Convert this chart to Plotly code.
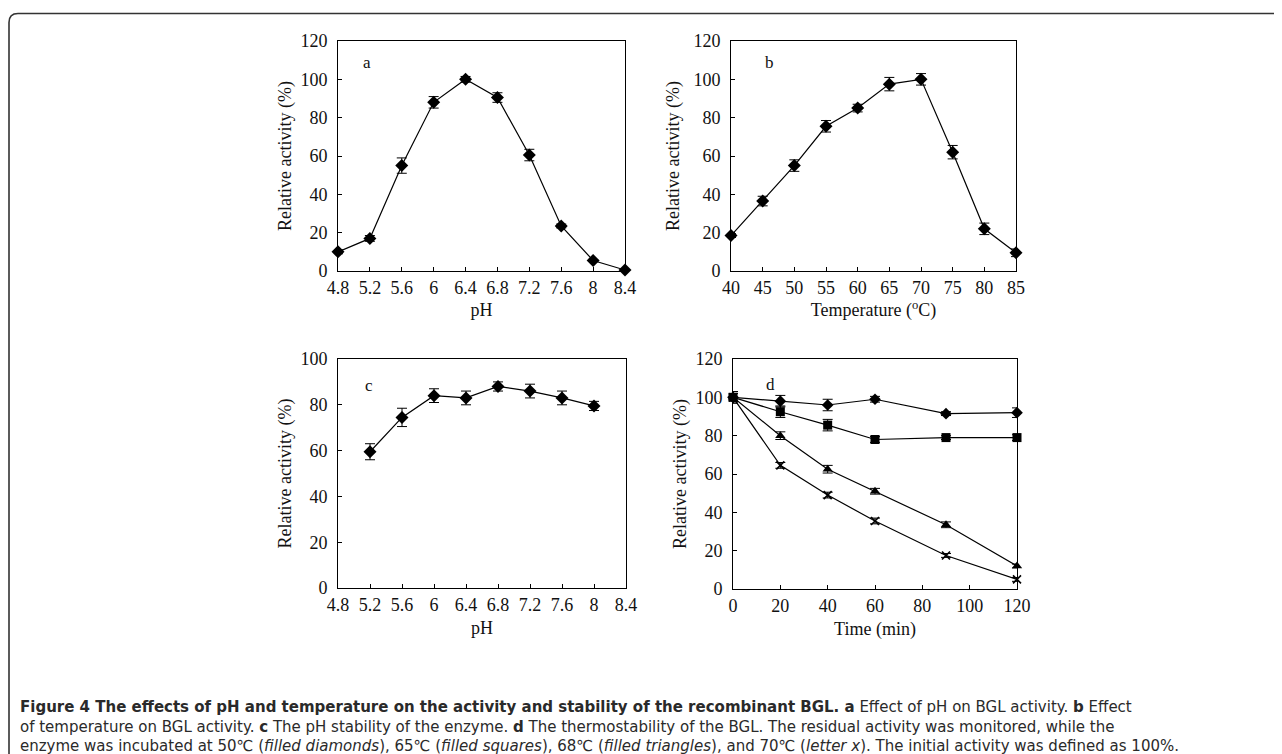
import plotly.graph_objects as go

W, H = 1282, 754

# ---- data ----
ph_a = [4.8, 5.2, 5.6, 6.0, 6.4, 6.8, 7.2, 7.6, 8.0, 8.4]
act_a = [10, 17, 55, 88, 100, 90.5, 60.5, 23.5, 5.5, 0.5]
err_a = [1, 1.5, 4, 3, 1.5, 2.5, 3, 1, 0.5, 0.3]

temp_b = [40, 45, 50, 55, 60, 65, 70, 75, 80, 85]
act_b = [18.5, 36.5, 55, 75.5, 85, 97.5, 100, 62, 22, 9.5]
err_b = [1, 2.5, 3, 3, 2, 3.5, 3, 3.5, 3, 2]

ph_c = [5.2, 5.6, 6.0, 6.4, 6.8, 7.2, 7.6, 8.0]
act_c = [59.5, 74.5, 84, 83, 88, 86, 83, 79.5]
err_c = [3.5, 4, 3, 3, 2, 3, 3, 2]

time_d = [0, 20, 40, 60, 90, 120]
d_50 = [100, 98, 96, 99, 91.5, 92]
d_50_err = [3, 3, 3, 1.5, 1, 2.5]
d_65 = [100, 92.5, 85.5, 78, 79, 79]
d_65_err = [3, 3, 3, 1.5, 1, 1.5]
d_68 = [100, 80, 62.5, 51, 33.5, 12]
d_68_err = [2, 2, 2, 1.5, 1.5, 1]
d_70 = [100, 64.5, 49, 35.5, 17.5, 5]
d_70_err = [2, 1.5, 1.5, 1.5, 1, 1]

ph_ticks = [4.8, 5.2, 5.6, 6.0, 6.4, 6.8, 7.2, 7.6, 8.0, 8.4]
ph_ticktext = ["4.8", "5.2", "5.6", "6", "6.4", "6.8", "7.2", "7.6", "8", "8.4"]

caption_lines = [
    "<b>Figure 4 The effects of pH and temperature on the activity and stability of the recombinant BGL. a</b> Effect of pH on BGL activity. <b>b</b> Effect",
    "of temperature on BGL activity. <b>c</b> The pH stability of the enzyme. <b>d</b> The thermostability of the BGL. The residual activity was monitored, while the",
    "enzyme was incubated at 50℃ (<i>filled diamonds</i>), 65℃ (<i>filled squares</i>), 68℃ (<i>filled triangles</i>), and 70℃ (<i>letter x</i>). The initial activity was defined as 100%.",
]

OFF = 8  # page body margin


def px(x):
    return (x - OFF) / W


def py(y):
    return 1 - (y - OFF) / H


SERIF = "Liberation Serif, Times New Roman, serif"
fig = go.Figure()


def add_series(x, y, e, xa, ya, symbol, size=8, lw=0):
    fig.add_trace(go.Scatter(
        x=x, y=y, mode="lines+markers", xaxis=xa, yaxis=ya,
        line=dict(color="black", width=1.2),
        marker=dict(symbol=symbol, size=size, color="black",
                    line=dict(color="black", width=lw)),
        error_y=dict(type="data", array=e, visible=True, color="black",
                     thickness=1, width=5),
        cliponaxis=False, showlegend=False))


add_series(ph_a, act_a, err_a, "x", "y", "diamond", 10)
add_series(temp_b, act_b, err_b, "x2", "y2", "diamond", 10)
add_series(ph_c, act_c, err_c, "x3", "y3", "diamond", 10)
add_series(time_d, d_50, d_50_err, "x4", "y4", "diamond", 9)
add_series(time_d, d_65, d_65_err, "x4", "y4", "square", 9)
add_series(time_d, d_68, d_68_err, "x4", "y4", "triangle-up", 9)
add_series(time_d, d_70, d_70_err, "x4", "y4", "x-thin-open", 8, 1.6)

axbase = dict(showline=True, linecolor="black", linewidth=1, mirror=True,
              ticks="inside", ticklen=4, tickcolor="black", showgrid=False,
              zeroline=False, automargin=False,
              tickfont=dict(family=SERIF, size=18, color="#111"))
xbase = dict(axbase)
ybase = dict(axbase, ticklabelstandoff=6)
titlefont = dict(family=SERIF, size=18, color="#111")
ytitle = "Relative activity (%)"

fig.update_layout(
    width=W, height=H, margin=dict(l=0, r=0, t=0, b=0, pad=0), autosize=False,
    paper_bgcolor="white", plot_bgcolor="white",
    xaxis=dict(xbase, domain=[px(338), px(625)], anchor="y", range=[4.8, 8.4],
               tickvals=ph_ticks, ticktext=ph_ticktext,
               title=dict(text="pH", font=titlefont, standoff=6)),
    yaxis=dict(ybase, domain=[py(271), py(41)], anchor="x", range=[0, 120],
               tickvals=[0, 20, 40, 60, 80, 100, 120],
               title=dict(text=ytitle, font=titlefont, standoff=4)),
    xaxis2=dict(xbase, domain=[px(731), px(1016)], anchor="y2", range=[40, 85],
                tickvals=[40, 45, 50, 55, 60, 65, 70, 75, 80, 85],
                title=dict(text="Temperature (<sup>o</sup>C)", font=titlefont, standoff=2)),
    yaxis2=dict(ybase, domain=[py(271), py(41)], anchor="x2", range=[0, 120],
                tickvals=[0, 20, 40, 60, 80, 100, 120],
                title=dict(text=ytitle, font=titlefont, standoff=9)),
    xaxis3=dict(xbase, domain=[px(338), px(626)], anchor="y3", range=[4.8, 8.4],
                tickvals=ph_ticks, ticktext=ph_ticktext,
                title=dict(text="pH", font=titlefont, standoff=7)),
    yaxis3=dict(ybase, domain=[py(588), py(359)], anchor="x3", range=[0, 100],
                tickvals=[0, 20, 40, 60, 80, 100],
                title=dict(text=ytitle, font=titlefont, standoff=4)),
    xaxis4=dict(xbase, domain=[px(733), px(1017)], anchor="y4", range=[0, 120],
                tickvals=[0, 20, 40, 60, 80, 100, 120],
                title=dict(text="Time (min)", font=titlefont, standoff=7)),
    yaxis4=dict(ybase, domain=[py(589), py(359)], anchor="x4", range=[0, 120],
                tickvals=[0, 20, 40, 60, 80, 100, 120],
                title=dict(text=ytitle, font=titlefont, standoff=4)),
)

# panel letters
for xr, yr, letter, xd, yd in [("x", "y", "a", 0.08, 0.955), ("x2", "y2", "b", 0.112, 0.955),
                                ("x3", "y3", "c", 0.086, 0.935), ("x4", "y4", "d", 0.109, 0.94)]:
    fig.add_annotation(text=letter, xref=xr + " domain", yref=yr + " domain", x=xd, y=yd,
                       showarrow=False, font=dict(family=SERIF, size=17, color="#111"))

# caption (one text block)
fig.add_annotation(text="<br>".join(caption_lines), xref="paper", yref="paper",
                   x=px(18), y=py(726), xanchor="left", yanchor="middle",
                   showarrow=False, align="left",
                   font=dict(family="DejaVu Sans, sans-serif", size=15, color="#2a2a2a"))

# outer frame with rounded top-left corner
x0, y0, r = 9, 13.5, 9
path = (f"M {px(x0)},{py(780)} L {px(x0)},{py(y0 + r)} "
        f"Q {px(x0)},{py(y0)} {px(x0 + r)},{py(y0)} L {px(1310)},{py(y0)}")
fig.add_shape(type="path", path=path, xref="paper", yref="paper",
              line=dict(color="#333", width=1.6))

fig.write_html("out.html")
